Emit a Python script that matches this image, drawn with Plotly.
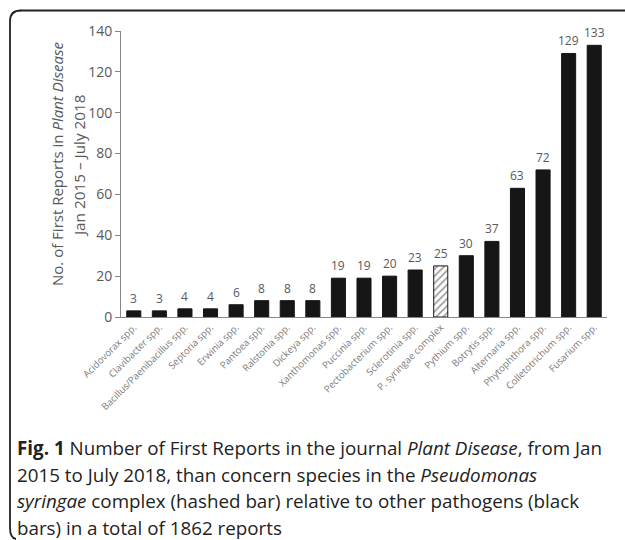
import plotly.graph_objects as go

categories = ["Acidovorax spp.", "Clavibacter spp.", "Bacillus/Paenibacillus spp.", "Septoria spp.",
              "Erwinia spp.", "Pantoea spp.", "Ralstonia spp.", "Dickeya spp.", "Xanthomonas spp.",
              "Puccinia spp.", "Pectobacterium spp.", "Sclerotinia spp.", "P. syringae complex",
              "Pythium spp.", "Botrytis spp.", "Alternaria spp.", "Phytophthora spp.",
              "Colletotrichum spp.", "Fusarium spp."]
values = [3, 3, 4, 4, 6, 8, 8, 8, 19, 19, 20, 23, 25, 30, 37, 63, 72, 129, 133]
highlight = "P. syringae complex"
y_ticks = [0, 20, 40, 60, 80, 100, 120, 140]

W, H = 625, 540
L, R, T, B = 121, 18, 31, 223
pw, ph = W - L - R, H - T - B


def px(x):
    return (x - L) / pw


def py(y):
    return 1 - (y - T) / ph


font_fam = "Open Sans, sans-serif"
colors = ["white" if c == highlight else "#161616" for c in categories]
shapes_ = ["/" if c == highlight else "" for c in categories]

fig = go.Figure()
fig.add_trace(go.Bar(
    x=categories, y=values,
    width=0.55,
    marker=dict(color=colors, line=dict(color="#161616", width=1),
                pattern=dict(shape=shapes_, fgcolor="#161616", bgcolor="white", size=5, solidity=0.35)),
    hoverinfo="skip",
))

# value labels above bars
for c, v in zip(categories, values):
    fig.add_annotation(x=c, y=v, xref="x", yref="y", text=str(v), showarrow=False,
                       yanchor="bottom", yshift=2,
                       font=dict(family=font_fam, size=12, color="#595959"))

fig.update_layout(
    width=W, height=H,
    margin=dict(l=L, r=R, t=T, b=B),
    paper_bgcolor="white", plot_bgcolor="white",
    showlegend=False,
    xaxis=dict(showline=True, linecolor="#868686", linewidth=1, ticks="", tickangle=-45,
               tickfont=dict(family=font_fam, size=9.6, color="#7a7a7a"), showgrid=False),
    yaxis=dict(range=[0, 140], tickvals=y_ticks, showline=True, linecolor="#868686", linewidth=1,
               ticks="outside", ticklen=5, tickcolor="#868686", showgrid=False, zeroline=False,
               tickfont=dict(family=font_fam, size=14, color="#595959")),
    font=dict(family=font_fam),
)

# y axis title (two lines)
fig.add_annotation(x=px(45), y=py(164), xref="paper", yref="paper", textangle=-90, showarrow=False,
                   text="No. of First Reports in <i>Plant Disease</i>",
                   font=dict(family=font_fam, size=15, color="#595959"))
fig.add_annotation(x=px(67), y=py(166), xref="paper", yref="paper", textangle=-90, showarrow=False,
                   text="Jan 2015 – July 2018",
                   font=dict(family=font_fam, size=15.3, color="#595959"))

# caption, one annotation per line
caption_lines = [
    "<b>Fig. 1</b> Number of First Reports in the journal <i>Plant Disease</i>, from Jan",
    "2015 to July 2018, than concern species in the <i>Pseudomonas</i>",
    "<i>syringae</i> complex (hashed bar) relative to other pathogens (black",
    "bars) in a total of 1862 reports",
]
for i, line in enumerate(caption_lines):
    fig.add_annotation(x=px(15), y=py(448 + 26.5 * i), xref="paper", yref="paper",
                       xanchor="left", yanchor="middle", align="left", showarrow=False, text=line,
                       font=dict(family=font_fam, size=18.8, color="#222222"))

# rounded panel border
border = dict(color="#222222", width=1.8)
fig.add_shape(type="line", x0=px(20), x1=px(626), y0=py(10.5), y1=py(10.5),
              xref="paper", yref="paper", line=border, layer="above")
path = (f"M {px(21)},{py(10.5)} Q {px(10)},{py(10.5)} {px(10)},{py(21)} "
        f"L {px(10)},{py(528)} Q {px(10)},{py(538)} {px(16)},{py(539)}")
fig.add_shape(type="path", path=path, xref="paper", yref="paper", line=border, layer="above")

fig.write_html("out.html", config={"displayModeBar": False},
               post_script="document.body.style.margin='0';document.body.style.overflow='hidden';")
